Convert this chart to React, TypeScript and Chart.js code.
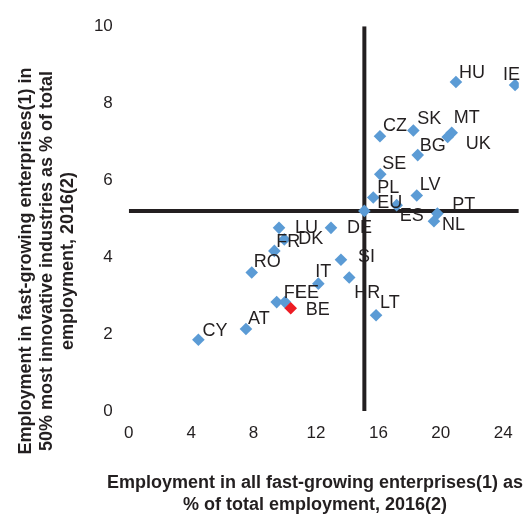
import React, { useEffect, useRef } from 'react';
import { Chart, registerables } from 'chart.js';

Chart.register(...registerables);

// ---- data ----
const countries = ['HU', 'IE', 'CZ', 'SK', 'MT', 'UK', 'BG', 'SE', 'PL', 'LV', 'EU', 'ES', 'PT', 'NL', 'LU', 'DE', 'DK', 'FR', 'RO', 'SI', 'HR', 'IT', 'FI', 'EE', 'BE', 'LT', 'AT', 'CY'];
const allFastGrowing = [20.97, 24.76, 16.1, 18.24, 20.7, 20.44, 18.52, 16.12, 15.67, 18.46, 15.1, 17.17, 19.78, 19.56, 9.63, 12.96, 9.97, 9.33, 7.88, 13.6, 14.13, 12.15, 9.48, 10.01, 10.38, 15.85, 7.51, 4.46];
const innovativeFastGrowing = [8.55, 8.47, 7.14, 7.29, 7.23, 7.12, 6.65, 6.15, 5.55, 5.6, 5.2, 5.35, 5.13, 4.93, 4.76, 4.76, 4.46, 4.16, 3.6, 3.93, 3.47, 3.31, 2.83, 2.83, 2.67, 2.49, 2.13, 1.85];
const highlighted = ['BE'];
const averageLabel = 'EU';
const xRange = [0, 25];
const yRange = [0, 10];
const xStep = 4;
const yStep = 2;
const xTitle = ['Employment in all fast-growing enterprises(1) as', '% of total employment, 2016(2)'];
const yTitle = ['Employment in fast-growing enterprises(1) in', '50% most innovative industries as % of total', 'employment, 2016(2)'];

// label placement relative to marker (layout only)
const labelOffsets: Record<string, [number, number]> = {
  HU: [3, -9], IE: [-12, -10], CZ: [3, -10], SK: [4, -11], MT: [2, -15], UK: [18, 7],
  BG: [2, -9], SE: [2, -10], PL: [4, -9], LV: [3, -10], EU: [13, -8], ES: [3, 11],
  PT: [15, -9], NL: [8, 4], LU: [16, 0], DE: [16, 0], DK: [14, 0], FR: [2, -9],
  RO: [2, -10], SI: [17, -3], HR: [5, 16], IT: [-3, -12], FI: [7, -9], EE: [10, -9],
  BE: [15, 2], LT: [4, -12], AT: [2, -10], CY: [4, -9],
};

const FONT = '"Liberation Sans", Arial, sans-serif';
const TEXT = '#231f20';
const BLUE = '#5b9bd5';
const RED = '#ed1c24';

export default function App() {
  const ref = useRef<HTMLCanvasElement | null>(null);

  useEffect(() => {
    if (!ref.current) return;
    const euIdx = countries.indexOf(averageLabel);
    const euX = allFastGrowing[euIdx];
    const euY = innovativeFastGrowing[euIdx];
    const points = countries.map((c, i) => ({ x: allFastGrowing[i], y: innovativeFastGrowing[i] }));

    const labelPlugin = {
      id: 'pointLabels',
      afterDatasetsDraw(chart: any) {
        const ctx = chart.ctx;
        const meta = chart.getDatasetMeta(0);
        ctx.save();
        ctx.font = `18px ${FONT}`;
        ctx.fillStyle = TEXT;
        ctx.textAlign = 'left';
        ctx.textBaseline = 'middle';
        meta.data.forEach((el: any, i: number) => {
          const c = countries[i];
          const off = labelOffsets[c] || [4, -10];
          ctx.fillText(c, el.x + off[0], el.y + off[1]);
        });
        ctx.restore();
      },
      afterDraw(chart: any) {
        const ctx = chart.ctx;
        const area = chart.chartArea;
        ctx.save();
        ctx.font = `bold 18px ${FONT}`;
        ctx.fillStyle = TEXT;
        ctx.textAlign = 'center';
        ctx.textBaseline = 'alphabetic';
        const cx = 315;
        xTitle.forEach((t, i) => ctx.fillText(t, cx, 488 + i * 22));
        const cy = 261;
        yTitle.forEach((t, i) => {
          ctx.save();
          ctx.translate(31 + i * 21, cy);
          ctx.rotate(-Math.PI / 2);
          ctx.fillText(t, 0, 0);
          ctx.restore();
        });
        ctx.restore();
      },
    };

    const chart = new Chart(ref.current, {
      type: 'scatter',
      data: {
        datasets: [
          {
            label: 'Countries',
            data: points,
            pointStyle: 'rectRot',
            pointRadius: 6.3,
            pointHoverRadius: 6.3,
            borderWidth: 0,
            backgroundColor: countries.map((c) => (highlighted.includes(c) ? RED : BLUE)),
            borderColor: countries.map((c) => (highlighted.includes(c) ? RED : BLUE)),
          },
          {
            label: 'EU vertical',
            type: 'line',
            data: [{ x: euX, y: yRange[0] }, { x: euX, y: yRange[1] }],
            showLine: true,
            borderColor: TEXT,
            borderWidth: 4,
            pointRadius: 0,
            fill: false,
          },
          {
            label: 'EU horizontal',
            type: 'line',
            data: [{ x: xRange[0], y: euY }, { x: xRange[1], y: euY }],
            showLine: true,
            borderColor: TEXT,
            borderWidth: 4,
            pointRadius: 0,
            fill: false,
          },
        ],
      } as any,
      options: {
        animation: false,
        responsive: false,
        maintainAspectRatio: false,
        layout: { padding: { left: 0, right: 9.2, top: 22.5, bottom: 0 } },
        plugins: { legend: { display: false }, tooltip: { enabled: false } },
        scales: {
          x: {
            type: 'linear',
            min: xRange[0],
            max: xRange[1],
            grid: { display: false, drawTicks: false },
            border: { display: false },
            ticks: {
              stepSize: xStep,
              includeBounds: false,
              padding: 12,
              color: TEXT,
              font: { family: FONT, size: 17 },
            },
            afterFit: (s: any) => { s.height = 104; },
          },
          y: {
            type: 'linear',
            min: yRange[0],
            max: yRange[1],
            grid: { display: false, drawTicks: false },
            border: { display: false },
            ticks: {
              stepSize: yStep,
              padding: 16,
              color: TEXT,
              font: { family: FONT, size: 17 },
            },
            afterFit: (s: any) => { s.width = 128.8; },
          },
        },
      } as any,
      plugins: [labelPlugin],
    });
    return () => chart.destroy();
  }, []);

  return (
    <div style={{ position: 'absolute', left: 0, top: 0, width: 528, height: 515, background: '#fff' }}>
      <canvas ref={ref} width={528} height={515} style={{ width: 528, height: 515, display: 'block' }} />
    </div>
  );
}
